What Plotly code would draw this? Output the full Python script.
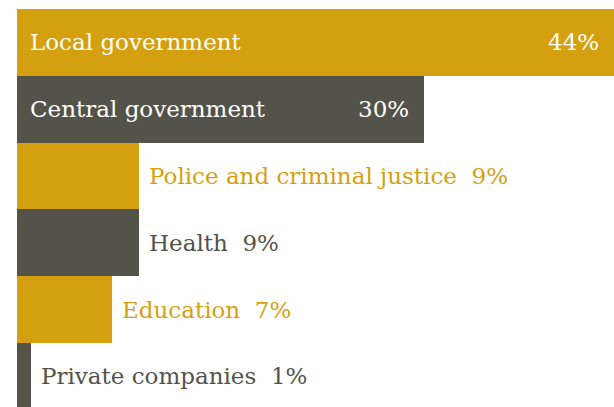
import plotly.graph_objects as go

# Share of respondents by organisation type
categories = ["Local government", "Central government", "Police and criminal justice",
              "Health", "Education", "Private companies"]
values = [44, 30, 9, 9, 7, 1]

GOLD = "#D5A00F"
SLATE = "#53534A"
colors = [GOLD if i % 2 == 0 else SLATE for i in range(len(categories))]

FONT = "DejaVu Serif"
FSIZE = 23

positions = list(range(len(categories)))

fig = go.Figure(
    go.Bar(
        x=values,
        y=positions,
        orientation="h",
        width=1.0,
        marker=dict(color=colors, line=dict(width=0)),
        hoverinfo="skip",
    )
)

annotations = []
for i, (cat, val, col) in enumerate(zip(categories, values, colors)):
    pct = f"{val}%"
    if val >= 20:
        # name inside the bar at the left, value inside at the right end
        annotations.append(dict(x=0, y=i, xref="x", yref="y", text=cat,
                                xanchor="left", yanchor="middle", xshift=11,
                                showarrow=False,
                                font=dict(family=FONT, size=FSIZE, color="white")))
        annotations.append(dict(x=val, y=i, xref="x", yref="y", text=pct,
                                xanchor="right", yanchor="middle", xshift=-13,
                                showarrow=False,
                                font=dict(family=FONT, size=FSIZE, color="white")))
    else:
        # short bars: name and value just past the bar end, in the bar colour
        annotations.append(dict(x=val, y=i, xref="x", yref="y",
                                text=f"{cat}\u00a0\u00a0{pct}",
                                xanchor="left", yanchor="middle", xshift=8,
                                showarrow=False,
                                font=dict(family=FONT, size=FSIZE, color=col)))

fig.update_layout(
    width=614,
    height=407,
    margin=dict(l=17, r=0, t=9, b=0),
    paper_bgcolor="white",
    plot_bgcolor="white",
    showlegend=False,
    bargap=0,
    annotations=annotations,
    xaxis=dict(range=[0, 44], visible=False, fixedrange=True),
    yaxis=dict(range=[5.46, -0.5], visible=False, fixedrange=True),
)

fig.write_html("out.html", config={"displayModeBar": False})
